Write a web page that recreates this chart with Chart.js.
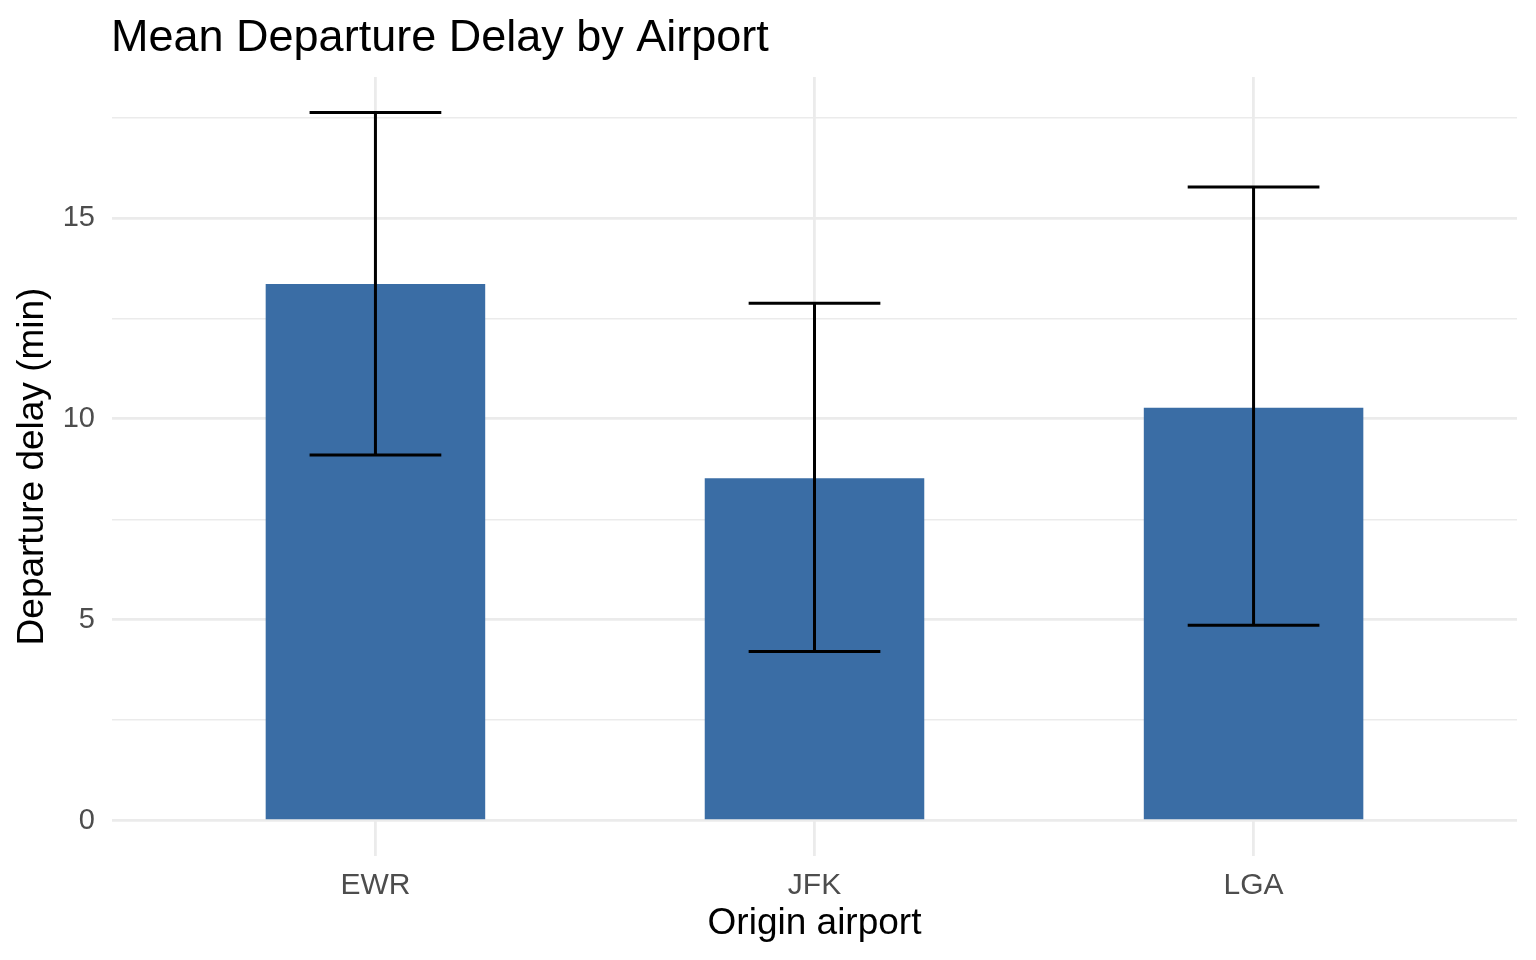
<!doctype html>
<html lang="en">
  <head>
    <meta charset="utf-8">
    <title>Mean Departure Delay by Airport</title>
    <style>
      * {
        margin: 0;
        padding: 0;
      }
      body {
        background: #ffffff;
      }
      .chartBox {
        width: 1536px;
        height: 960px;
      }
    </style>
  </head>
  <body>
    <div class="chartBox">
      <canvas id="myChart"></canvas>
    </div>
    <script src="https://cdn.jsdelivr.net/npm/chart.js@4.4.1/dist/chart.umd.min.js"></script>
    <script>
    // data
    const airports = ['EWR', 'JFK', 'LGA'];
    const meanDelay = [13.36, 8.52, 10.28];
    const lowerCI = [9.10, 4.21, 4.86];
    const upperCI = [17.63, 12.88, 15.77];
    const yTicks = [0, 2.5, 5, 7.5, 10, 12.5, 15, 17.5];

    const fontFamily = '"Liberation Sans", Arial, sans-serif';
    const barColour = 'rgb(58, 109, 165)';
    const gridColour = '#EBEBEB';

    // ggplot style 5% expansion of the y range
    const yTop = Math.max(...upperCI);
    const yPad = yTop * 0.05;

    // errorBars plugin block
    const errorBars = {
      id: 'errorBars',
      afterDatasetsDraw(chart) {
        const { ctx, scales: { x, y } } = chart;
        ctx.save();
        ctx.strokeStyle = '#000000';
        ctx.lineWidth = 3;
        ctx.lineCap = 'butt';
        airports.forEach((name, i) => {
          const cx = x.getPixelForValue(i + 1);
          const x0 = x.getPixelForValue(i + 1 - 0.15);
          const x1 = x.getPixelForValue(i + 1 + 0.15);
          const yLo = y.getPixelForValue(lowerCI[i]);
          const yHi = y.getPixelForValue(upperCI[i]);
          ctx.beginPath();
          ctx.moveTo(cx, yLo);
          ctx.lineTo(cx, yHi);
          ctx.moveTo(x0, yHi);
          ctx.lineTo(x1, yHi);
          ctx.moveTo(x0, yLo);
          ctx.lineTo(x1, yLo);
          ctx.stroke();
        });
        ctx.restore();
      }
    };

    // plotTitle plugin block (left aligned with the panel)
    const plotTitle = {
      id: 'plotTitle',
      afterDraw(chart) {
        const { ctx, chartArea: { left } } = chart;
        ctx.save();
        ctx.font = '45px ' + fontFamily;
        ctx.fillStyle = '#000000';
        ctx.textAlign = 'left';
        ctx.textBaseline = 'alphabetic';
        ctx.fillText('Mean Departure Delay by Airport', left - 1, 51);
        ctx.restore();
      }
    };

    const data = {
      datasets: [{
        label: 'Mean departure delay',
        data: meanDelay.map((v, i) => ({ x: i + 1, y: v })),
        backgroundColor: barColour,
        borderWidth: 0,
        categoryPercentage: 1,
        barPercentage: 0.5
      }]
    };

    const config = {
      type: 'bar',
      data,
      options: {
        responsive: true,
        maintainAspectRatio: false,
        animation: false,
        layout: {
          padding: { top: 77, right: 19, bottom: 0, left: 0 }
        },
        scales: {
          x: {
            type: 'linear',
            min: 0.4,
            max: 3.6,
            offset: false,
            afterBuildTicks: (axis) => {
              axis.ticks = airports.map((a, i) => ({ value: i + 1 }));
            },
            afterFit: (axis) => {
              axis.height = 104;
            },
            border: { display: false },
            grid: { color: gridColour, lineWidth: 2.8, drawTicks: false, offset: false },
            ticks: {
              callback: (v) => airports[Math.round(v) - 1],
              color: '#4D4D4D',
              font: { family: fontFamily, size: 30 },
              padding: 12,
              maxRotation: 0
            },
            title: {
              display: true,
              text: 'Origin airport',
              color: '#000000',
              font: { family: fontFamily, size: 37 },
              padding: { top: 0, bottom: 14 }
            }
          },
          y: {
            min: -yPad,
            max: yTop + yPad,
            afterBuildTicks: (axis) => {
              axis.ticks = yTicks.map((v) => ({ value: v }));
            },
            afterFit: (axis) => {
              axis.width = 112;
            },
            border: { display: false },
            grid: {
              color: gridColour,
              lineWidth: (ctx) => (ctx.tick && ctx.tick.value % 5 === 0) ? 2.8 : 1.4,
              drawTicks: false
            },
            ticks: {
              callback: (v) => (v % 5 === 0 ? String(v) : ''),
              color: '#4D4D4D',
              font: { family: fontFamily, size: 29 },
              padding: 17
            },
            title: {
              display: true,
              text: 'Departure delay (min)',
              color: '#000000',
              font: { family: fontFamily, size: 37 },
              padding: { top: 11, bottom: 0 }
            }
          }
        },
        plugins: {
          legend: { display: false },
          tooltip: { enabled: false },
          title: { display: false }
        }
      },
      plugins: [errorBars, plotTitle]
    };

    const myChart = new Chart(
      document.getElementById('myChart'),
      config
    );
    </script>
  </body>
</html>
